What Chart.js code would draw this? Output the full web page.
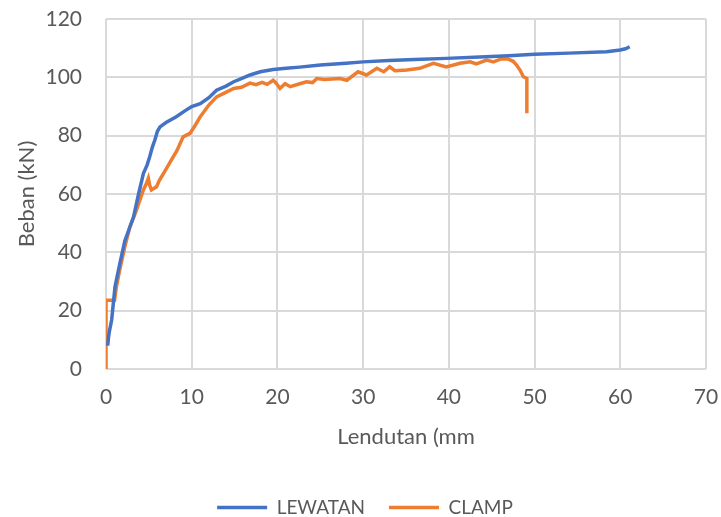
<!DOCTYPE html>
<html lang="en">
  <head>
    <meta charset="UTF-8" />
    <title>Beban - Lendutan</title>
    <style type="text/css">
      body {
        margin: 0;
        background-color: #ffffff;
      }
      .wrap {
        width: 721px;
        height: 517px;
      }
    </style>
  </head>
  <body>
    <div class="wrap">
      <canvas id="load-chart" width="721" height="517"></canvas>
    </div>

    <script src="https://cdn.jsdelivr.net/npm/chart.js@4.4.1/dist/chart.umd.min.js"></script>

    <script type="text/javascript">
      // lendutan (mm) and beban (kN) readings per specimen
      const lewatanX = [0.2, 0.3, 0.4, 0.66, 1.05, 1.6, 2.2, 2.7, 3.2, 3.8, 4.36, 4.8, 5.1, 5.4, 5.7, 6.0, 6.3, 7.0, 8.2, 9.2, 10, 11, 12, 12.9, 14, 14.9, 16, 16.8, 18, 19.5, 21, 22.6, 25, 28, 30, 33, 36, 39.7, 43.6, 47, 50, 54, 58.4, 60, 60.6, 61.1];
      const lewatanY = [8, 11, 13, 16.8, 28.2, 36, 44, 48, 52, 60, 67, 70, 72.8, 76, 78.5, 81.5, 83, 84.5, 86.5, 88.5, 90, 91, 93, 95.6, 97, 98.5, 99.8, 100.8, 101.9, 102.7, 103.1, 103.5, 104.2, 104.8, 105.3, 105.8, 106.1, 106.5, 107, 107.4, 107.9, 108.3, 108.8, 109.4, 109.8, 110.5];

      const clampX = [0, 0, 1.0, 1.2, 1.6, 2.2, 2.8, 3.5, 4.36, 4.7, 4.94, 5.1, 5.3, 5.9, 6.2, 6.7, 7.5, 8.3, 9, 9.8, 10.4, 11, 12, 12.9, 13.8, 14.9, 15.8, 16.8, 17.5, 18.2, 18.8, 19.5, 19.8, 20.3, 20.9, 21.5, 22.6, 23.4, 24.1, 24.6, 25.5, 27.3, 28.1, 29.4, 30.4, 31.6, 32.4, 33.1, 33.7, 35.1, 36.6, 38.2, 39.7, 41.3, 42.5, 43.2, 44.4, 45.2, 46.1, 46.9, 47.5, 47.9, 48.3, 48.7, 49.1, 49.1];
      const clampY = [0, 23.6, 23.6, 28, 34, 42, 48.8, 54, 61.4, 63.5, 65.4, 63, 61.4, 62.5, 64.5, 67, 71, 75, 79.6, 80.8, 83.5, 86.5, 90.5, 93.3, 94.6, 96.2, 96.6, 98, 97.5, 98.3, 97.6, 99, 98.2, 96.2, 97.8, 96.8, 97.8, 98.5, 98.2, 99.6, 99.3, 99.6, 99, 101.9, 100.8, 103.1, 101.9, 103.6, 102.3, 102.5, 103.1, 104.8, 103.6, 104.8, 105.3, 104.6, 105.9, 105.3, 106.3, 106.3, 105.5, 104.2, 102.5, 100.2, 99.6, 87.7];

      const xTicks = [0, 10, 20, 30, 40, 50, 60, 70];
      const yTicks = [0, 20, 40, 60, 80, 100, 120];

      const toPoints = (xs, ys) => xs.map((x, i) => ({ x: x, y: ys[i] }));

      const textColor = "#595959";
      const gridColor = "#d9d9d9";
      const fontFamily = "Lato, 'Open Sans', sans-serif";

      new Chart("load-chart", {
        type: "scatter",
        data: {
          datasets: [
            {
              label: "LEWATAN",
              data: toPoints(lewatanX, lewatanY),
              borderColor: "#4472c4",
              backgroundColor: "#4472c4",
              borderWidth: 3.5,
              showLine: true,
              pointRadius: 0,
              pointStyle: "line",
              tension: 0,
            },
            {
              label: "CLAMP",
              data: toPoints(clampX, clampY),
              borderColor: "#ed7d31",
              backgroundColor: "#ed7d31",
              borderWidth: 3.5,
              showLine: true,
              pointRadius: 0,
              pointStyle: "line",
              tension: 0,
            },
          ],
        },
        options: {
          responsive: false,
          animation: false,
          layout: {
            padding: { top: 19, right: 15, left: 24, bottom: -10 },
          },
          plugins: {
            tooltip: { enabled: false },
            legend: {
              position: "bottom",
              labels: {
                usePointStyle: true,
                pointStyle: "line",
                pointStyleWidth: 50,
                padding: 24,
                color: textColor,
                font: { family: fontFamily, size: 19 },
              },
            },
          },
          scales: {
            x: {
              type: "linear",
              min: 0,
              max: 70,
              afterBuildTicks: (axis) => {
                axis.ticks = xTicks.map((v) => ({ value: v }));
              },
              afterFit: (axis) => {
                axis.height = 105;
                // edge labels may overhang; keep the plot box fixed
                axis.paddingLeft = 0;
                axis.paddingRight = 0;
              },
              grid: { color: gridColor, lineWidth: 2, drawTicks: false },
              border: { display: false },
              ticks: {
                padding: 16,
                color: textColor,
                font: { family: fontFamily, size: 21 },
              },
              title: {
                display: true,
                text: "Lendutan (mm",
                color: textColor,
                padding: { top: 0, bottom: 24 },
                font: { family: fontFamily, size: 22 },
              },
            },
            y: {
              min: 0,
              max: 120,
              afterBuildTicks: (axis) => {
                axis.ticks = yTicks.map((v) => ({ value: v }));
              },
              afterFit: (axis) => {
                axis.width = 82;
                axis.paddingTop = 0;
                axis.paddingBottom = 0;
              },
              grid: { color: gridColor, lineWidth: 2, drawTicks: false },
              border: { display: false },
              ticks: {
                padding: 24,
                color: textColor,
                font: { family: fontFamily, size: 21 },
              },
              title: {
                display: true,
                text: "Beban (kN)",
                color: textColor,
                padding: { top: -10, bottom: 0 },
                font: { family: fontFamily, size: 22 },
              },
            },
          },
        },
      });
    </script>
  </body>
</html>
